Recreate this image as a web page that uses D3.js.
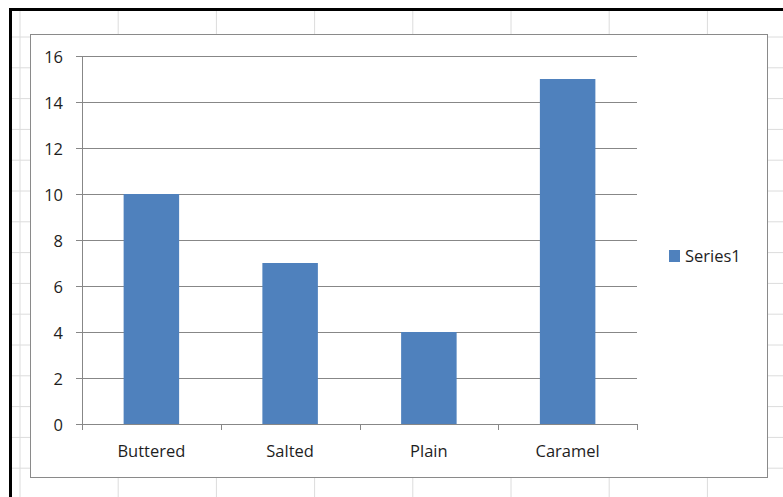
<!DOCTYPE html>
<html>
<head>
<meta charset="utf-8">
<script src="https://cdn.jsdelivr.net/npm/d3@7"></script>
<style>
  html, body { margin: 0; padding: 0; background: #fff; }
  svg { display: block; }
  text { font-family: "Open Sans", "Noto Sans", sans-serif; fill: #1e1e1e; }
</style>
</head>
<body>
<svg id="chart" width="783" height="497"></svg>
<script>
// Sales by popcorn flavour
const categories = ["Buttered", "Salted", "Plain", "Caramel"];
const series1 = [10, 7, 4, 15];
const yTicks = [0, 2, 4, 6, 8, 10, 12, 14, 16];
const seriesName = "Series1";

const svg = d3.select("#chart");
const W = 783, H = 497;
const FONT = 16.5;

// Worksheet cell grid behind the chart
const colLines = d3.range(20, W, 98.2);
const rowLines = d3.range(37, H, 30.8);
const grid = svg.append("g");
grid.selectAll(".col").data(colLines).join("line")
  .attr("x1", d => d).attr("x2", d => d).attr("y1", 10).attr("y2", H)
  .attr("stroke", "#dcdcdc").attr("stroke-width", 1);
grid.selectAll(".row").data(rowLines).join("line")
  .attr("x1", 10).attr("x2", W).attr("y1", d => d).attr("y2", d => d)
  .attr("stroke", "#dcdcdc").attr("stroke-width", 1);

// Window frame edges
svg.append("rect").attr("x", 9).attr("y", 8).attr("width", W - 9).attr("height", 3).attr("fill", "#000");
svg.append("rect").attr("x", 9).attr("y", 8).attr("width", 3).attr("height", H - 8).attr("fill", "#000");

// Chart area
svg.append("rect")
  .attr("x", 30.5).attr("y", 34.5).attr("width", 737).attr("height", 443)
  .attr("fill", "#fff").attr("stroke", "#8a8a8a").attr("stroke-width", 1);

// Plot area
const plot = { left: 82, right: 637, top: 56, bottom: 424 };

const x = d3.scaleBand().domain(categories).range([plot.left, plot.right]).padding(0);
const y = d3.scaleLinear().domain([0, 16]).range([plot.bottom, plot.top]);

const g = svg.append("g");

// Horizontal gridlines with small ticks to the left of the axis
g.selectAll(".grid").data(yTicks).join("line")
  .attr("x1", plot.left - 6).attr("x2", plot.right)
  .attr("y1", d => Math.round(y(d)) + 0.5).attr("y2", d => Math.round(y(d)) + 0.5)
  .attr("stroke", "#878787").attr("stroke-width", 1);

// Value axis line
g.append("line")
  .attr("x1", plot.left + 0.5).attr("x2", plot.left + 0.5)
  .attr("y1", plot.top).attr("y2", plot.bottom + 6)
  .attr("stroke", "#878787");

// Category tick marks
const boundaries = categories.map(c => x(c)).concat([plot.right]);
g.selectAll(".xtick").data(boundaries.slice(1)).join("line")
  .attr("x1", d => Math.round(d) + 0.5).attr("x2", d => Math.round(d) + 0.5)
  .attr("y1", plot.bottom).attr("y2", plot.bottom + 6)
  .attr("stroke", "#878787");

// Bars
const barW = x.bandwidth() * 0.4;
g.selectAll(".bar").data(series1).join("rect")
  .attr("x", (d, i) => x(categories[i]) + (x.bandwidth() - barW) / 2)
  .attr("y", d => y(d))
  .attr("width", barW)
  .attr("height", d => y(0) - y(d))
  .attr("fill", "#4f81bd");

// Y tick labels
g.selectAll(".ylab").data(yTicks).join("text")
  .attr("x", 63).attr("y", d => y(d) + 1)
  .attr("dy", "0.35em")
  .attr("text-anchor", "end")
  .attr("font-size", FONT)
  .text(d => d);

// Category labels
g.selectAll(".xlab").data(categories).join("text")
  .attr("x", d => x(d) + x.bandwidth() / 2)
  .attr("y", 451)
  .attr("dy", "0.35em")
  .attr("text-anchor", "middle")
  .attr("font-size", FONT)
  .text(d => d);

// Legend
const legend = svg.append("g");
legend.append("rect")
  .attr("x", 669).attr("y", 250).attr("width", 11).attr("height", 12)
  .attr("fill", "#4f81bd");
legend.append("text")
  .attr("x", 685).attr("y", 256).attr("dy", "0.35em")
  .attr("font-size", FONT)
  .text(seriesName);
</script>
</body>
</html>
